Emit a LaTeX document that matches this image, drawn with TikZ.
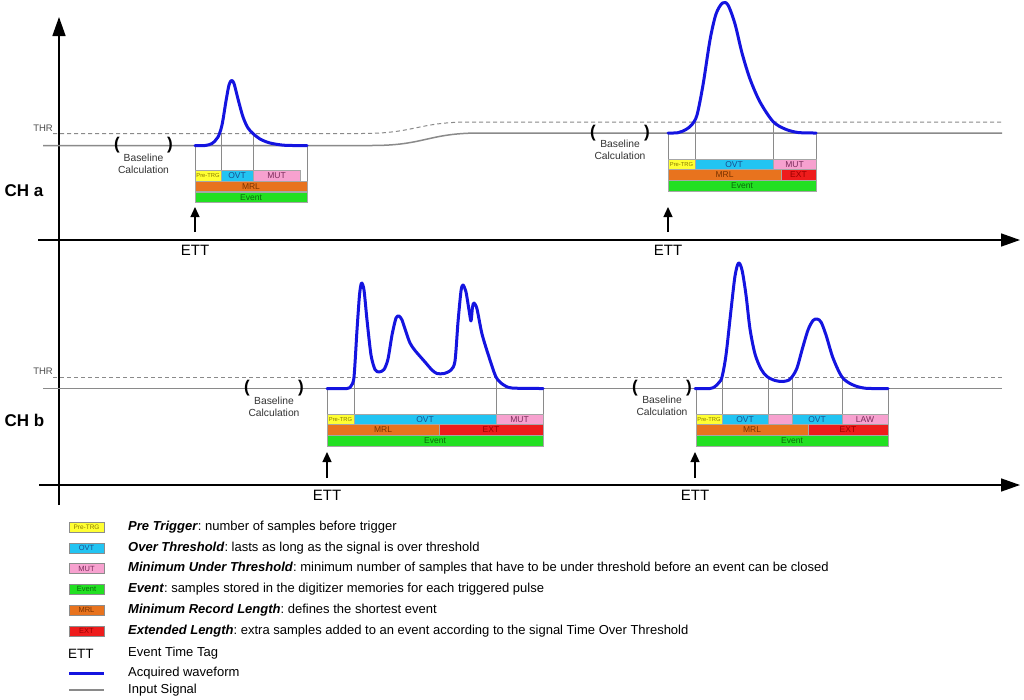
\documentclass[tikz,border=0pt]{standalone}
\usepackage{fontspec}
\setmainfont{Liberation Sans}
\frenchspacing
\usetikzlibrary{arrows.meta}
\definecolor{yelF}{HTML}{FFFF33}\definecolor{yelT}{HTML}{8A7A00}
\definecolor{cyaF}{HTML}{22C4F2}\definecolor{cyaT}{HTML}{1A4F8F}
\definecolor{pnkF}{HTML}{F7A1CF}\definecolor{pnkT}{HTML}{7A2A5A}
\definecolor{grnF}{HTML}{22E022}\definecolor{grnT}{HTML}{0A6A0A}
\definecolor{orgF}{HTML}{E8731E}\definecolor{orgT}{HTML}{7A3300}
\definecolor{redF}{HTML}{EE1C1C}\definecolor{redT}{HTML}{9A0000}
\definecolor{wave}{HTML}{1414E0}
\definecolor{sig}{HTML}{8A8A8A}
\newcommand\seg[8]{\node[segbox,fill=#6,text=#7,minimum width={(#4)-(#2)},minimum height={(#5)-(#3)},anchor=north west] (#1) at (#2,#3) {#8};}
\newcommand\lbox[5]{\node[segbox,fill=#2,text=#3,draw=black!45,minimum width=35,minimum height=10,anchor=west,font=\fontsize{#5}{#5}\selectfont] (#1) at (69,#4) {#1};}
\begin{document}
\begin{tikzpicture}[x=1pt,y=-1pt,
  segbox/.style={draw=black!35,line width=0.5pt,inner sep=0pt,outer sep=0pt,font=\fontsize{8.5}{9}\selectfont},
  axis/.style={line width=1.5pt,-{Triangle[length=19pt,width=13pt]}},
  signal/.style={sig,line width=1.5pt},
  thr/.style={sig,line width=1pt,dash pattern=on 4pt off 3pt},
  acq/.style={wave,line width=3pt,line join=round,line cap=round},
  tick/.style={sig,line width=0.8pt},
  ettarrow/.style={line width=1.3pt,-{Triangle[length=10pt,width=9pt]}},
  bracket/.style={font=\fontsize{17}{17}\bfseries\selectfont,inner sep=0pt},
  bcalc/.style={font=\fontsize{10.3}{12}\selectfont,align=center,text=black!80},
  ettlab/.style={font=\fontsize{15}{15}\selectfont},
  chlab/.style={font=\fontsize{17}{17}\bfseries\selectfont,anchor=west},
  thrlab/.style={font=\fontsize{9.5}{10}\selectfont,anchor=east,text=black!70,inner sep=0pt},
  legtext/.style={font=\fontsize{13}{14}\selectfont,anchor=west,inner sep=0pt}]
\useasboundingbox[fill=white] (0,0) rectangle (1024,699);

% ---------- axes ----------
\coordinate (ybot) at (59,505);
\coordinate (ytop) at (59,17);
\coordinate (xa0) at (38,240);
\coordinate (xa1) at (1020,240);
\coordinate (xb0) at (39,485);
\coordinate (xb1) at (1020,485);
\draw[axis] (ybot) -- (ytop);
\draw[axis] (xa0) -- (xa1);
\draw[axis] (xb0) -- (xb1);
\node[chlab] (cha) at (1,191) {CH a};
\node[chlab] (chb) at (1,420) {CH b};
\node[thrlab] (thra) at (53,128.5) {THR};
\node[thrlab] (thrb) at (53,371.5) {THR};

% ---------- CH a signal and threshold ----------
\draw[thr] (53,133.5) -- (362,133.5) .. controls (415,133.5) and (418,122) .. (470,122) -- (1002,122);
\draw[signal] (43,145.5) -- (372,145.5) .. controls (425,145.5) and (428,133) .. (480,133) -- (1002,133);

% ---------- CH b signal and threshold ----------
\draw[thr] (53,377) -- (1002,377);
\draw[signal] (43,388.5) -- (1002,388.5);

% ---------- baseline calculation ----------
\node[bracket] (a1l) at (117,145.5) {(};
\node[bracket] (a1r) at (170,145.5) {)};
\node[bcalc] (a1bc) at (143.5,163.5) {Baseline\\Calculation};
\node[bracket] (a2l) at (593,133) {(};
\node[bracket] (a2r) at (647,133) {)};
\node[bcalc] (a2bc) at (620,149.5) {Baseline\\Calculation};
\node[bracket] (b1l) at (247,388.5) {(};
\node[bracket] (b1r) at (301,388.5) {)};
\node[bcalc] (b1bc) at (274,406.5) {Baseline\\Calculation};
\node[bracket] (b2l) at (635,388.5) {(};
\node[bracket] (b2r) at (689,388.5) {)};
\node[bcalc] (b2bc) at (662,406) {Baseline\\Calculation};

% ---------- tick lines ----------
\draw[tick] (195,145.5) -- (195,171) (221,133.5) -- (221,171) (253,133.5) -- (253,171) (307,145.5) -- (307,182);
\draw[tick] (668,133) -- (668,159) (695,122) -- (695,159) (773,122) -- (773,159) (816,133) -- (816,159);
\draw[tick] (327,388.5) -- (327,414) (354,377) -- (354,414) (496,377) -- (496,414) (543,388.5) -- (543,414);
\draw[tick] (696,388.5) -- (696,414) (722,377) -- (722,414) (768,377) -- (768,414) (792,377) -- (792,414) (842,377) -- (842,414) (888,388.5) -- (888,414);

% ---------- segments CH a, pulse 1 ----------
\seg{a1pre}{195}{170.5}{221}{181}{yelF}{yelT}{\fontsize{5.8}{6}\selectfont Pre-TRG}
\seg{a1ovt}{221}{170.5}{253}{181}{cyaF}{cyaT}{OVT}
\seg{a1mut}{253}{170.5}{300}{181}{pnkF}{pnkT}{MUT}
\seg{a1mrl}{195}{181}{307}{191.5}{orgF}{orgT}{MRL}
\seg{a1evt}{195}{192}{307}{202.5}{grnF}{grnT}{Event}
% ---------- segments CH a, pulse 2 ----------
\seg{a2pre}{668}{159}{695}{169.5}{yelF}{yelT}{\fontsize{5.8}{6}\selectfont Pre-TRG}
\seg{a2ovt}{695}{159}{773}{169.5}{cyaF}{cyaT}{OVT}
\seg{a2mut}{773}{159}{816}{169.5}{pnkF}{pnkT}{MUT}
\seg{a2mrl}{668}{169.5}{781}{180}{orgF}{orgT}{MRL}
\seg{a2ext}{781}{169.5}{816}{180}{redF}{redT}{EXT}
\seg{a2evt}{668}{180.5}{816}{191}{grnF}{grnT}{Event}
% ---------- segments CH b, pulse 1 ----------
\seg{b1pre}{327}{414}{354}{424.5}{yelF}{yelT}{\fontsize{5.8}{6}\selectfont Pre-TRG}
\seg{b1ovt}{354}{414}{496}{424.5}{cyaF}{cyaT}{OVT}
\seg{b1mut}{496}{414}{543}{424.5}{pnkF}{pnkT}{MUT}
\seg{b1mrl}{327}{424.5}{439}{435}{orgF}{orgT}{MRL}
\seg{b1ext}{439}{424.5}{543}{435}{redF}{redT}{EXT}
\seg{b1evt}{327}{435.5}{543}{446}{grnF}{grnT}{Event}
% ---------- segments CH b, pulse 2 ----------
\seg{b2pre}{696}{414}{722}{424.5}{yelF}{yelT}{\fontsize{5.8}{6}\selectfont Pre-TRG}
\seg{b2ovt}{722}{414}{768}{424.5}{cyaF}{cyaT}{OVT}
\seg{b2mut}{768}{414}{792}{424.5}{pnkF}{pnkT}{}
\seg{b2ovtb}{792}{414}{842}{424.5}{cyaF}{cyaT}{OVT}
\seg{b2law}{842}{414}{888}{424.5}{pnkF}{pnkT}{LAW}
\seg{b2mrl}{696}{424.5}{808}{435}{orgF}{orgT}{MRL}
\seg{b2ext}{808}{424.5}{888}{435}{redF}{redT}{EXT}
\seg{b2evt}{696}{435.5}{888}{446}{grnF}{grnT}{Event}

% ---------- acquired waveforms ----------
\draw[acq] plot[smooth,tension=0.5] coordinates {(195,145.5) (205,145.5) (212,143.5) (218,137) (222,125) (226,101) (229,85) (231.5,80.5) (234,83.5) (238,99) (243,117) (248,128) (253,133.5) (260,139) (270,143) (285,145.3) (307,145.5)};
\draw[acq] plot[smooth,tension=0.5] coordinates {(668,133) (678,132.7) (686,129.5) (692,124.5) (697,115) (703,85) (710,40) (716,14) (722.5,3) (728,5) (735,24) (742,53) (750,79) (760,102) (773,121.5) (785,129) (798,132.5) (816,133)};
\draw[acq] plot[smooth,tension=0.45] coordinates {(327,388.5) (347,388.5) (351,386) (354,377) (357,330) (359.5,295) (361.5,283) (364,290) (367,320) (371,355) (375,369.5) (379,372) (384,369.5) (388,359) (392,335) (396,318) (399,316) (402,320) (406,332) (410,343) (415,350.5) (425,362) (432,370) (437,373.5) (444,373.5) (451,370) (455,361) (458,322) (461,291) (463,285) (466,292) (469,310) (471,321) (472.5,307) (474,303) (477,309) (482,334) (489,357) (496,377) (503,384.5) (512,388) (543,388.5)};
\draw[acq] plot[smooth,tension=0.5] coordinates {(695,388.5) (710,388.5) (715,386.5) (719,382.5) (722,377) (726,355) (731,310) (735,276) (738.5,263) (742,270) (746,295) (750,329) (755,354) (761,369) (767,376.5) (775,380.5) (783,381.5) (789,380) (792,377) (797,368) (802,350) (808,330) (813,320.5) (817,319) (821,322) (826,335) (833,358) (842,377) (852,384.5) (865,388.2) (888,388.5)};

% ---------- ETT markers ----------
\node[ettlab] (etta1) at (195,250.5) {ETT};
\node[ettlab] (etta2) at (668,250.5) {ETT};
\node[ettlab] (ettb1) at (327,495.5) {ETT};
\node[ettlab] (ettb2) at (695,495.5) {ETT};
\coordinate (ea1s) at (195,232); \coordinate (ea1t) at (195,207);
\coordinate (ea2s) at (668,232); \coordinate (ea2t) at (668,207);
\coordinate (eb1s) at (327,478); \coordinate (eb1t) at (327,452);
\coordinate (eb2s) at (695,478); \coordinate (eb2t) at (695,452);
\draw[ettarrow] (ea1s) -- (ea1t);
\draw[ettarrow] (ea2s) -- (ea2t);
\draw[ettarrow] (eb1s) -- (eb1t);
\draw[ettarrow] (eb2s) -- (eb2t);

% ---------- legend ----------
\lbox{Pre-TRG}{yelF}{yelT}{527.5}{6.5}
\lbox{OVT}{cyaF}{cyaT}{548}{7.5}
\lbox{MUT}{pnkF}{pnkT}{568.5}{7.5}
\lbox{Event}{grnF}{grnT}{589}{7.5}
\lbox{MRL}{orgF}{orgT}{610}{7.5}
\lbox{EXT}{redF}{redT}{631}{7.5}
\node[legtext] (l1) at (128,527.5) {\textbf{\textit{Pre Trigger}}: number of samples before trigger};
\node[legtext] (l2) at (128,548) {\textbf{\textit{Over Threshold}}: lasts as long as the signal is over threshold};
\node[legtext] (l3) at (128,568.5) {\textbf{\textit{Minimum Under Threshold}}: minimum number of samples that have to be under threshold before an event can be closed};
\node[legtext] (l4) at (128,589) {\textbf{\textit{Event}}: samples stored in the digitizer memories for each triggered pulse};
\node[legtext] (l5) at (128,610) {\textbf{\textit{Minimum Record Length}}: defines the shortest event};
\node[legtext] (l6) at (128,631) {\textbf{\textit{Extended Length}}: extra samples added to an event according to the signal Time Over Threshold};
\node[legtext,font=\fontsize{13.5}{14}\selectfont] (lett) at (68,653.5) {ETT};
\node[legtext] (l7) at (128,653.5) {Event Time Tag};
\coordinate (lw0) at (69,673); \coordinate (lw1) at (104,673);
\draw[wave,line width=3pt] (lw0) -- (lw1);
\node[legtext] (l8) at (128,673) {Acquired waveform};
\coordinate (ls0) at (69,690); \coordinate (ls1) at (104,690);
\draw[signal] (ls0) -- (ls1);
\node[legtext] (l9) at (128,690) {Input Signal};
\end{tikzpicture}
\end{document}
